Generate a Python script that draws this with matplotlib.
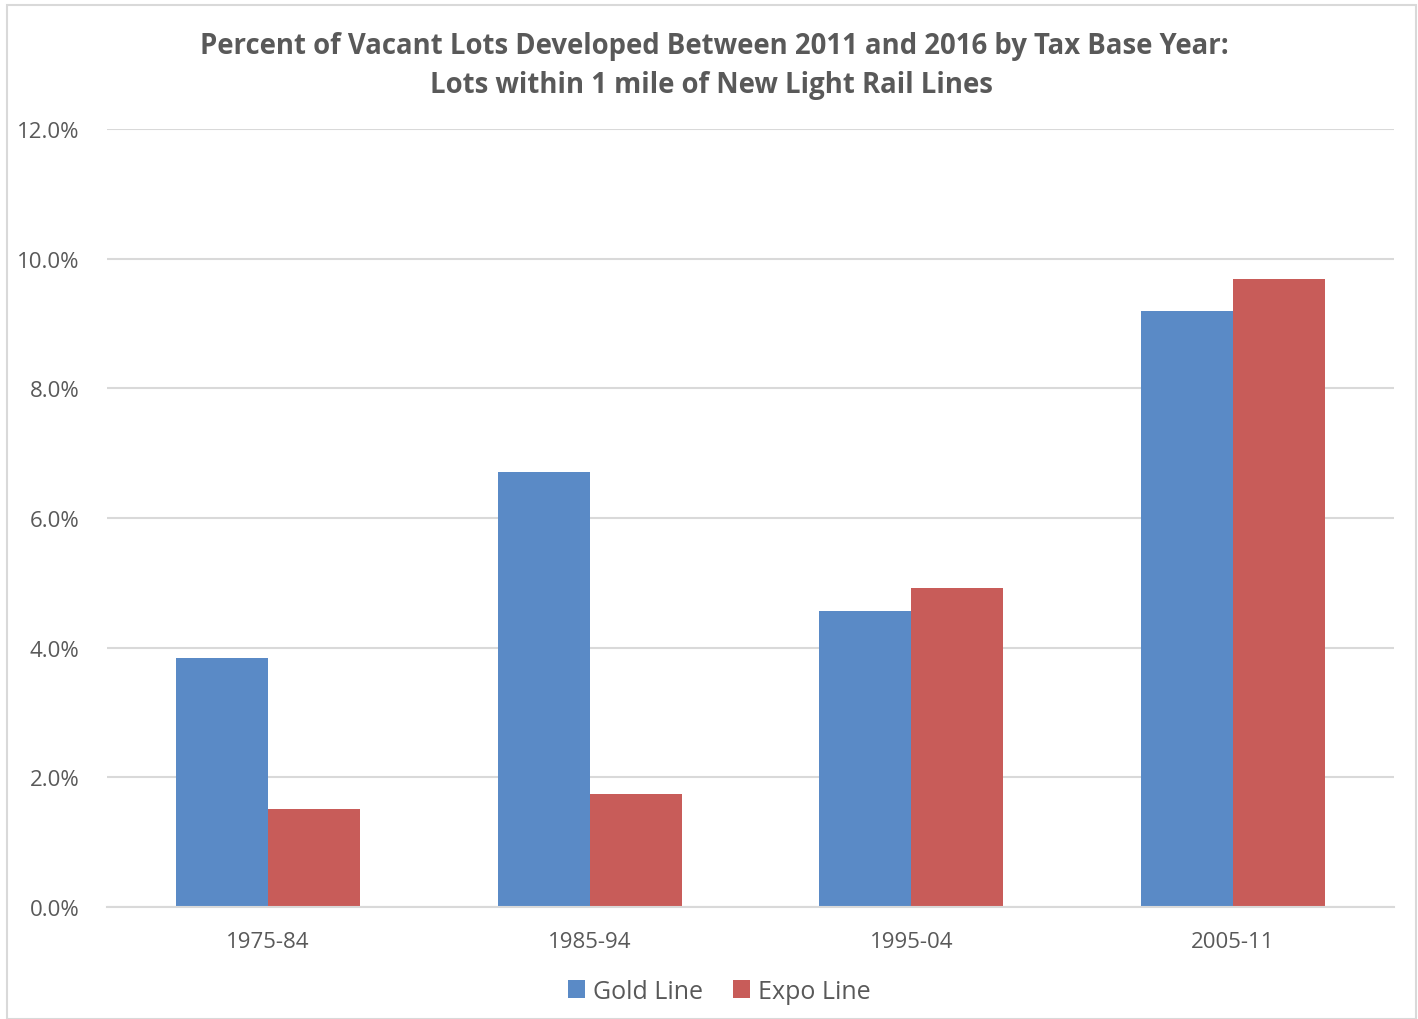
import numpy as np
import matplotlib
matplotlib.use('Agg')
import matplotlib.pyplot as plt
import matplotlib.patches as patches

plt.rcParams['font.family'] = ['Liberation Sans Narrow', 'Open Sans', 'DejaVu Sans']

# data
categories = ['1975-84', '1985-94', '1995-04', '2005-11']
gold_line = [3.84, 6.71, 4.57, 9.19]
expo_line = [1.51, 1.74, 4.92, 9.69]
yticks = [0, 2, 4, 6, 8, 10, 12]

gold_color = '#5A8AC6'
expo_color = '#C85C59'
text_color = '#595959'
grid_color = '#D9D9D9'

fig = plt.figure(figsize=(14.18, 10.2), dpi=100, facecolor='white')
ax = fig.add_axes([0.0755, 0.1098, 0.9075, 0.7627])

# outer chart border
fig.patches.append(patches.Rectangle((7 / 1418, 0), 1409 / 1418, 1 - 6 / 1020,
                                     transform=fig.transFigure, fill=False,
                                     edgecolor=grid_color, linewidth=1.5))

x = np.arange(len(categories))
w = 0.286
ax.bar(x - w / 2, gold_line, width=w, color=gold_color, label='Gold Line', zorder=3)
ax.bar(x + w / 2, expo_line, width=w, color=expo_color, label='Expo Line', zorder=3)

ax.set_xlim(-0.5, len(categories) - 0.5)
ax.set_ylim(0, 12)
ax.set_yticks(yticks)
ax.set_yticklabels([f'{v:.1f}%' for v in yticks])
ax.set_xticks(x)
ax.set_xticklabels(categories)
ax.tick_params(axis='both', length=0, labelsize=16, colors=text_color)
ax.tick_params(axis='x', pad=17)
ax.tick_params(axis='y', pad=20)

ax.grid(axis='y', color=grid_color, linewidth=1.5, zorder=0)
for s in ['top', 'right', 'left']:
    ax.spines[s].set_visible(False)
ax.spines['bottom'].set_color(grid_color)
ax.spines['bottom'].set_linewidth(1.5)
ax.spines['bottom'].set_zorder(4)

fig.text(0.504, 0.954, 'Percent of Vacant Lots Developed Between 2011 and 2016 by Tax Base Year:',
         ha='center', va='center', fontsize=19.8, fontweight='bold', color=text_color)
fig.text(0.502, 0.916, 'Lots within 1 mile of New Light Rail Lines',
         ha='center', va='center', fontsize=19.8, fontweight='bold', color=text_color)

fig.legend(loc='center', bbox_to_anchor=(0.507, 0.027), ncol=2, frameon=False,
           fontsize=18, labelcolor=text_color, handlelength=0.7, handleheight=0.7,
           handletextpad=0.3, columnspacing=1.2)

fig.savefig('out.png', dpi=100, facecolor='white')
